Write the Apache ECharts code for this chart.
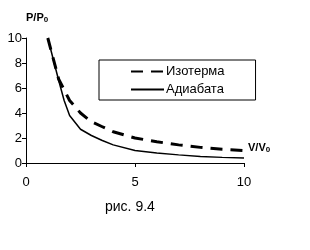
<!DOCTYPE html>
<html>
<head>
<meta charset="utf-8">
<script src="https://cdn.jsdelivr.net/npm/echarts@6/dist/echarts.min.js"></script>
<style>
  html, body { margin: 0; padding: 0; background: #fff; }
  #chart { width: 310px; height: 250px; }
</style>
</head>
<body>
<div id="chart"></div>
<script>
// V/V0 values and P/P0
const isoV = [1, 1.5, 2, 2.5, 3, 3.5, 4, 5, 6, 7, 8, 9, 10];
const isoP = [10, 6.7, 5, 4, 3.3, 2.9, 2.5, 2, 1.7, 1.45, 1.25, 1.1, 1.0];
const adiV = [1, 1.5, 1.75, 2, 2.5, 3, 3.5, 4, 5, 6, 7, 8, 9, 10];
const adiP = [10, 6.6, 5.0, 3.8, 2.7, 2.2, 1.8, 1.45, 1.0, 0.8, 0.65, 0.52, 0.45, 0.4];
const seriesNames = ['Изотерма', 'Адиабата'];
const xTicks = [0, 5, 10];
const yTicks = [0, 2, 4, 6, 8, 10];

const FONT = '"Liberation Sans", Arial, sans-serif';

const chart = echarts.init(document.getElementById('chart'));

const pairs = (xs, ys) => xs.map((x, i) => [x, ys[i]]);

// подпись оси с нижним индексом
const subRich = {
  a: { fontFamily: FONT, fontSize: 11, fontWeight: 'bold', color: '#000' },
  b: { fontFamily: FONT, fontSize: 8, fontWeight: 'bold', color: '#000', padding: [4, 0, 0, 0] }
};

chart.setOption({
  backgroundColor: '#fff',
  animation: false,
  textStyle: { fontFamily: FONT, color: '#000' },
  grid: { left: 26, right: 66, top: 38, bottom: 87 },
  title: {
    text: 'рис. 9.4',
    left: 105,
    top: 200,
    padding: 0,
    textStyle: { fontFamily: FONT, fontSize: 14, fontWeight: 'normal', color: '#000' }
  },
  legend: {
    left: 99,
    top: 60,
    orient: 'vertical',
    padding: [5, 31, 4, 31],
    itemGap: 5,
    itemWidth: 33,
    itemHeight: 14,
    borderColor: '#000',
    borderWidth: 1,
    borderRadius: 0,
    itemStyle: { opacity: 0 },   // прячем кружок, остаётся только линия
    textStyle: { fontFamily: FONT, fontSize: 13, color: '#000', padding: [0, 0, 0, -3] },
    data: seriesNames
  },
  xAxis: {
    type: 'value',
    min: 0,
    max: 10,
    interval: 5,
    name: '{a|V/V}{b|0}',
    nameLocation: 'end',
    nameGap: 4,
    nameTextStyle: {
      verticalAlign: 'bottom',
      padding: [0, 0, 9, 0],
      rich: subRich
    },
    axisLine: { onZero: false, lineStyle: { color: '#000', width: 1 } },
    axisTick: { show: true, inside: false, length: 4, lineStyle: { color: '#000' } },
    axisLabel: {
      margin: 13,
      fontFamily: FONT,
      fontSize: 13,
      color: '#000',
      formatter: v => xTicks.includes(v) ? String(v) : ''
    },
    splitLine: { show: false }
  },
  yAxis: {
    type: 'value',
    min: 0,
    max: 10,
    interval: 2,
    name: '{a|P/P}{b|0}',
    nameLocation: 'end',
    nameGap: 14,
    nameTextStyle: { align: 'left', rich: subRich },
    axisLine: { show: true, onZero: false, lineStyle: { color: '#000', width: 1 } },
    axisTick: { show: true, inside: false, length: 4, lineStyle: { color: '#000' } },
    axisLabel: {
      margin: 4,
      fontFamily: FONT,
      fontSize: 13,
      color: '#000',
      formatter: v => yTicks.includes(v) ? String(v) : ''
    },
    splitLine: { show: false }
  },
  series: [
    {
      name: seriesNames[0],
      type: 'line',
      data: pairs(isoV, isoP),
      symbol: 'none',
      smooth: false,
      clip: false,
      lineStyle: { color: '#000', width: 3, type: [12, 8], cap: 'butt' },
      itemStyle: { color: '#000' }
    },
    {
      name: seriesNames[1],
      type: 'line',
      data: pairs(adiV, adiP),
      symbol: 'none',
      smooth: false,
      clip: false,
      lineStyle: { color: '#000', width: 1.5 },
      itemStyle: { color: '#000' }
    }
  ]
});
</script>
</body>
</html>
